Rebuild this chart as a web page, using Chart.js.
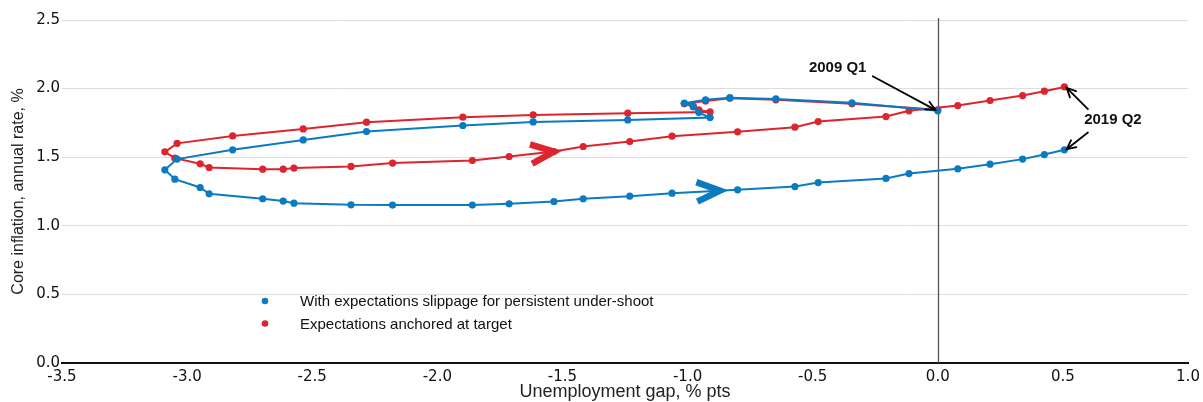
<!DOCTYPE html>
<html><head><meta charset="utf-8">
<script src="https://cdn.jsdelivr.net/npm/chart.js@4.4.1/dist/chart.umd.min.js"></script>
<style>html,body{margin:0;padding:0;background:#fff}canvas{display:block}</style>
</head><body>
<canvas id="c" width="1203" height="402"></canvas>
<script>
// Unemployment gap (% pts), shared path of both scenarios, 2009 Q1 .. 2019 Q2
const gapX = [0.00,-0.343,-0.647,-0.831,-0.928,-1.013,-0.977,-0.955,-0.910,-1.239,-1.617,-1.898,-2.283,-2.536,-2.818,-3.040,-3.089,-3.049,-2.948,-2.912,-2.698,-2.616,-2.573,-2.345,-2.179,-1.860,-1.713,-1.534,-1.417,-1.231,-1.062,-0.800,-0.571,-0.478,-0.207,-0.115,0.080,0.209,0.339,0.426,0.506];
// Core inflation, with expectations slippage
const slippageY = [1.838,1.896,1.925,1.934,1.918,1.894,1.867,1.825,1.789,1.772,1.757,1.731,1.687,1.626,1.554,1.486,1.408,1.340,1.279,1.233,1.197,1.180,1.165,1.153,1.151,1.151,1.160,1.177,1.197,1.216,1.238,1.262,1.286,1.315,1.345,1.381,1.415,1.449,1.486,1.519,1.554];
// Core inflation, expectations anchored
const anchoredY = [1.845,1.889,1.918,1.929,1.910,1.889,1.870,1.845,1.830,1.821,1.808,1.792,1.755,1.706,1.655,1.601,1.539,1.493,1.452,1.425,1.413,1.413,1.421,1.433,1.457,1.476,1.505,1.541,1.578,1.614,1.653,1.685,1.719,1.760,1.796,1.838,1.876,1.913,1.949,1.981,2.012];
const seriesLabels = ['With expectations slippage for persistent under-shoot','Expectations anchored at target'];
const xRange = [-3.5, 1.0];
const yRange = [0, 2.5];
const tickStep = 0.5;
const xTitle = 'Unemployment gap, % pts';
const yTitle = 'Core inflation, annual rate, %';
// Text annotations (data coordinates)
const noteLabels = [{text:'2009 Q1', x:-0.40, y:2.15},{text:'2019 Q2', x:0.70, y:1.77}];
const noteArrows = [
  {from:[-0.26,2.09], to:[-0.01,1.845]},
  {from:[0.60,1.85], to:[0.515,2.005]},
  {from:[0.60,1.68], to:[0.515,1.558]}
];
// Direction chevrons: dataset index, segment start index, fraction along segment
const chevrons = [{ds:1, seg:26, t:1.0},{ds:0, seg:30, t:0.73}];

const BLUE = '#0b7bc1';
const RED = '#dc252e';

const pts = ys => gapX.map((x,i)=>({x:x, y:ys[i]}));

const overlay = {
  id:'overlay',
  beforeDatasetsDraw(chart){
    const {ctx, chartArea:a, scales:{x}} = chart;
    const px = Math.round(x.getPixelForValue(0)) + 0.5;
    ctx.save();
    ctx.strokeStyle = '#555';
    ctx.lineWidth = 1.3;
    ctx.beginPath(); ctx.moveTo(px, a.top - 2); ctx.lineTo(px, a.bottom); ctx.stroke();
    ctx.restore();
  },
  afterDatasetsDraw(chart){
    const {ctx, chartArea:a, scales:{x,y}} = chart;
    ctx.save();
    // chevrons
    chevrons.forEach(c=>{
      const ds = chart.data.datasets[c.ds];
      const p0 = ds.data[c.seg], p1 = ds.data[c.seg+1];
      const x0 = x.getPixelForValue(p0.x), y0 = y.getPixelForValue(p0.y);
      const x1 = x.getPixelForValue(p1.x), y1 = y.getPixelForValue(p1.y);
      const tx = x0 + (x1-x0)*c.t, ty = y0 + (y1-y0)*c.t;
      const ang = Math.atan2(y1-y0, x1-x0);
      const L = 25, h = 0.40;
      ctx.strokeStyle = ds.borderColor;
      ctx.lineWidth = 6.5;
      ctx.lineJoin = 'miter';
      ctx.lineCap = 'butt';
      ctx.beginPath();
      ctx.moveTo(tx - L*Math.cos(ang - h), ty - L*Math.sin(ang - h));
      ctx.lineTo(tx, ty);
      ctx.lineTo(tx - L*Math.cos(ang + h), ty - L*Math.sin(ang + h));
      ctx.stroke();
    });
    // annotation arrows
    ctx.strokeStyle = '#000';
    ctx.lineWidth = 1.8;
    ctx.lineCap = 'round';
    noteArrows.forEach(ar=>{
      const fx = x.getPixelForValue(ar.from[0]), fy = y.getPixelForValue(ar.from[1]);
      const tx = x.getPixelForValue(ar.to[0]), ty = y.getPixelForValue(ar.to[1]);
      const ang = Math.atan2(ty-fy, tx-fx);
      ctx.beginPath(); ctx.moveTo(fx,fy); ctx.lineTo(tx,ty); ctx.stroke();
      const L = 10, h = 0.45;
      ctx.beginPath();
      ctx.moveTo(tx - L*Math.cos(ang-h), ty - L*Math.sin(ang-h));
      ctx.lineTo(tx,ty);
      ctx.lineTo(tx - L*Math.cos(ang+h), ty - L*Math.sin(ang+h));
      ctx.stroke();
    });
    ctx.fillStyle = '#111';
    ctx.font = 'bold 15px "Liberation Sans", Arial, sans-serif';
    ctx.textAlign = 'center';
    ctx.textBaseline = 'middle';
    noteLabels.forEach(n=>{
      ctx.fillText(n.text, x.getPixelForValue(n.x), y.getPixelForValue(n.y));
    });
    // legend
    ctx.font = '15px "Liberation Sans", Arial, sans-serif';
    ctx.textAlign = 'left';
    chart.data.datasets.forEach((ds,i)=>{
      const cy = a.bottom - 62 + i*22.5;
      const cx = a.left + 203;
      ctx.fillStyle = ds.borderColor;
      ctx.beginPath(); ctx.arc(cx, cy, 3.3, 0, Math.PI*2); ctx.fill();
      ctx.fillStyle = '#111';
      ctx.fillText(ds.label, cx + 35, cy + 1);
    });
    ctx.restore();
  }
};

new Chart(document.getElementById('c'), {
  type:'scatter',
  data:{datasets:[
    {label:seriesLabels[0], data:pts(slippageY), showLine:true, borderColor:BLUE, backgroundColor:BLUE, borderWidth:2, pointRadius:3.6, pointBorderWidth:0, pointHoverRadius:3.6, tension:0},
    {label:seriesLabels[1], data:pts(anchoredY), showLine:true, borderColor:RED, backgroundColor:RED, borderWidth:2, pointRadius:3.6, pointBorderWidth:0, pointHoverRadius:3.6, tension:0}
  ]},
  options:{
    responsive:false, animation:false, devicePixelRatio:1,
    layout:{padding:{top:20,right:15,bottom:0,left:0}},
    plugins:{legend:{display:false}, tooltip:{enabled:false}},
    events:[],
    scales:{
      x:{type:'linear', min:xRange[0], max:xRange[1],
        ticks:{stepSize:tickStep, callback:v=>Number(v).toFixed(1), font:{family:'DejaVu Sans', size:15}, color:'#111', padding:5, maxRotation:0, autoSkip:false},
        grid:{display:true, color:'rgba(0,0,0,0)', drawTicks:false},
        border:{display:true, color:'#111', width:2},
        title:{display:true, text:xTitle, font:{family:'Liberation Sans', size:18}, color:'#222', padding:{top:0,bottom:-1}},
        afterFit(s){ s.height = 39; s.paddingRight = 12; s.paddingLeft = 12; }
      },
      y:{type:'linear', min:yRange[0], max:yRange[1],
        ticks:{stepSize:tickStep, callback:v=>Number(v).toFixed(1), font:{family:'DejaVu Sans', size:15}, color:'#111', padding:2},
        grid:{color:'#dcdcdc', drawTicks:false, lineWidth:1},
        border:{display:false},
        title:{display:true, text:yTitle, font:{family:'Liberation Sans', size:16}, color:'#222', padding:{top:9,bottom:0}},
        afterFit(s){ s.width = 62; }
      }
    }
  },
  plugins:[overlay]
});
</script>
</body></html>
